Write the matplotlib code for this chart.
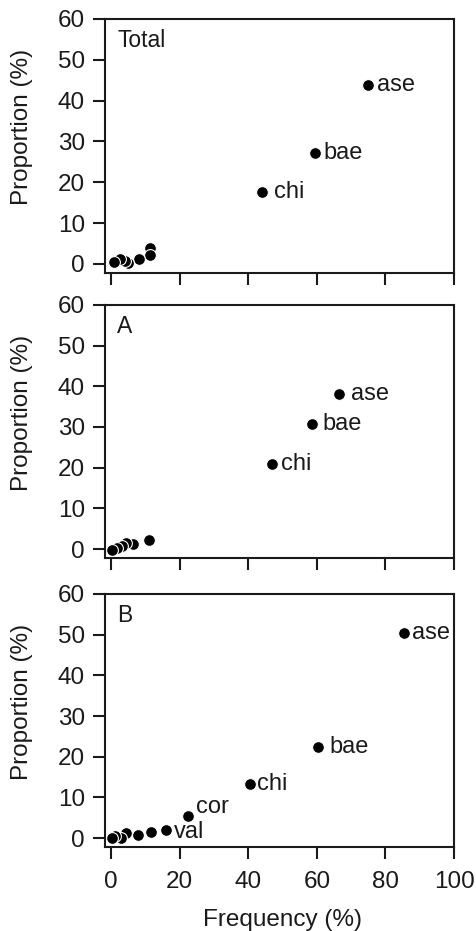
import matplotlib
matplotlib.use("Agg")
import matplotlib.pyplot as plt

plt.rcParams['font.family'] = ['Liberation Sans', 'DejaVu Sans']

# panel names
panels = ['Total', 'A', 'B']

# frequency (%) and proportion (%) per panel, ascending x
total_x = [0.9, 2.6, 4.1, 5.0, 8.0, 11.2, 11.2, 44.1, 59.5, 75.0]
total_y = [0.4, 1.2, 0.7, 0.3, 1.15, 2.2, 3.8, 17.6, 27.1, 43.9]
total_lab = ['', '', '', '', '', '', '', 'chi', 'bae', 'ase']

a_x = [0.2, 1.7, 3.1, 4.3, 6.5, 10.9, 47.0, 58.7, 66.5]
a_y = [-0.25, 0.2, 0.65, 1.5, 1.2, 2.3, 21.0, 30.8, 38.2]
a_lab = ['', '', '', '', '', '', 'chi', 'bae', 'ase']

b_x = [0.2, 1.2, 2.8, 4.4, 7.8, 11.6, 16.0, 22.5, 40.5, 60.3, 85.4]
b_y = [-0.1, 0.6, 0.0, 1.2, 0.7, 1.5, 2.0, 5.4, 13.4, 22.5, 50.4]
b_lab = ['', '', '', '', '', '', 'val', 'cor', 'chi', 'bae', 'ase']

xticks = [0, 20, 40, 60, 80, 100]
yticks = [0, 10, 20, 30, 40, 50, 60]

data = [(total_x, total_y, total_lab), (a_x, a_y, a_lab), (b_x, b_y, b_lab)]

# label offsets in points (dx, dy)
offsets = [
    {'chi': (8.5, 0), 'bae': (6.0, 0), 'ase': (6.0, 0)},
    {'chi': (6.5, 0), 'bae': (7.5, 0), 'ase': (8.5, 0)},
    {'val': (5.5, -1.5), 'cor': (5.5, 6.5), 'chi': (5.0, 0), 'bae': (8.0, 0), 'ase': (6.0, 0)},
]

# axes boxes [left, bottom, width, height] in figure fractions
boxes = [
    [0.2206, 0.7068, 0.7332, 0.2728],
    [0.2206, 0.4007, 0.7332, 0.2717],
    [0.2206, 0.0902, 0.7332, 0.2718],
]

txt = '#1a1a1a'
fig = plt.figure(figsize=(4.76, 9.31), dpi=100)

for i, (name, (xs, ys, labs)) in enumerate(zip(panels, data)):
    ax = fig.add_axes(boxes[i])
    ax.scatter(xs[::-1], ys[::-1], s=72, c='black', edgecolors='white',
               linewidths=0.8, zorder=3, clip_on=False)
    for x, y, lab in zip(xs, ys, labs):
        if lab:
            dx, dy = offsets[i][lab]
            ax.annotate(lab, (x, y), xytext=(dx, dy), textcoords='offset points',
                        ha='left', va='center', fontsize=17, color=txt)
    ax.text(0.035, 0.96, name, transform=ax.transAxes, ha='left', va='top',
            fontsize=16.5, color=txt)

    ax.set_xlim(-1.8, 100)
    ax.set_ylim(-2.2, 60)
    ax.set_xticks(xticks)
    ax.set_yticks(yticks)
    for sp in ax.spines.values():
        sp.set_linewidth(1.5)
        sp.set_color(txt)
    ax.tick_params(direction='out', length=8.5, width=1.5, colors=txt,
                   labelsize=17.5)
    ax.tick_params(axis='y', pad=6)
    ax.tick_params(axis='x', pad=9)
    ax.set_ylabel('Proportion (%)', fontsize=17.5, color=txt)
    ax.yaxis.set_label_coords(-0.206, 0.575)
    if i < 2:
        ax.set_xticklabels([])
    else:
        ax.set_xlabel('Frequency (%)', fontsize=17.5, color=txt)
        ax.xaxis.set_label_coords(0.51, -0.245)

fig.savefig('out.png', dpi=100)
